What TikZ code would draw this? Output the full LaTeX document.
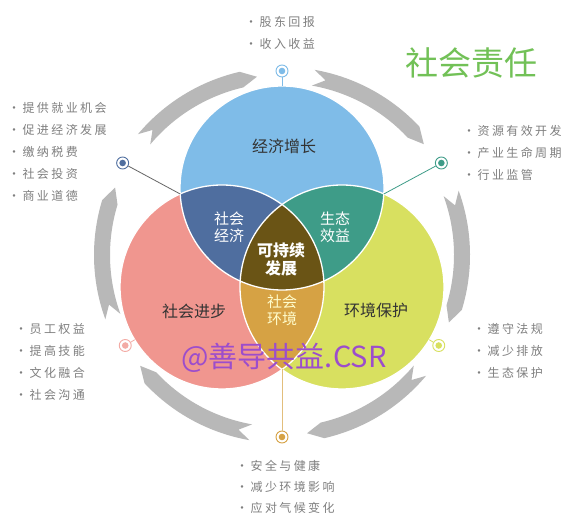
\documentclass[tikz,border=0pt]{standalone}
\usepackage{fontspec}
\setmainfont{Noto Sans CJK SC}
\newfontfamily\listfont[LetterSpace=20]{Noto Sans CJK SC}
\usetikzlibrary{calc}
\definecolor{cblue}{HTML}{7FBCE8}
\definecolor{cred}{HTML}{F0968F}
\definecolor{cyel}{HTML}{D8E060}
\definecolor{cbr}{HTML}{4F6E9F}
\definecolor{cby}{HTML}{3E9C88}
\definecolor{cry}{HTML}{D6A244}
\definecolor{cmid}{HTML}{6A5415}
\definecolor{ringgray}{HTML}{B8B8B8}
\definecolor{listgray}{HTML}{7F7F7F}
\definecolor{titlegreen}{HTML}{72C157}
\definecolor{markpurple}{HTML}{9C4DCC}
\tikzset{
  ringarrow/.style={fill=ringgray},
  knob/.style={circle, draw=#1, fill=white, line width=0.9pt, minimum size=12pt, inner sep=0pt,
    path picture={\fill[#1] (path picture bounding box.center) circle (3.3pt);}},
  listtext/.style={anchor=north west, align=left, inner sep=0pt, text=listgray,
    font=\listfont\fontsize{12}{22}\selectfont},
  lens/.style={align=center, inner sep=0pt, font=\fontsize{15}{17}\selectfont},
  bigtext/.style={inner sep=0pt, font=\fontsize{16}{18}\selectfont},
}
\begin{document}
\begin{tikzpicture}[x=1pt, y=1pt]
  \useasboundingbox[fill=white] (0,0) rectangle (572,524);
  \coordinate (O) at (282,269);
  \coordinate (B) at (282,336);
  \coordinate (R) at (222,237);
  \coordinate (Y) at (342,237);

  % ring of arrows
  \foreach \c in {120,60,0,-60,-120,180}{
    \fill[ringarrow, shift={(O)}] (\c+20:188pt) arc[start angle=\c+20, end angle=\c-17, radius=188pt]
      -- (\c-22:180pt) -- (\c-17:172pt) arc[start angle=\c-17, end angle=\c+20, radius=172pt]
      -- (\c+16:180pt) -- cycle;
  }

  % three circles
  \fill[cblue] (B) circle[radius=102pt];
  \fill[cred] (R) circle[radius=102pt];
  \fill[cyel] (Y) circle[radius=102pt];
  \begin{scope}
    \clip (B) circle[radius=102pt];
    \fill[cbr] (R) circle[radius=102pt];
    \fill[cby] (Y) circle[radius=102pt];
  \end{scope}
  \begin{scope}
    \clip (R) circle[radius=102pt];
    \fill[cry] (Y) circle[radius=102pt];
  \end{scope}
  \begin{scope}
    \clip (B) circle[radius=102pt];
    \clip (R) circle[radius=102pt];
    \fill[cmid] (Y) circle[radius=102pt];
  \end{scope}
  \foreach \p in {B,R,Y}
    \draw[white, line width=1.3pt] (\p) circle[radius=102pt];

  % knobs and their lines
  \node[knob=cblue] (knobt) at ($(O)+(90:184pt)$) {};
  \node[knob=cbr] (knobul) at ($(O)+(150:184pt)$) {};
  \node[knob=cby] (knobur) at ($(O)+(30:184pt)$) {};
  \node[knob=cred!80] (knobll) at ($(O)+(210:181pt)$) {};
  \node[knob=cyel] (knoblr) at ($(O)+(330:181pt)$) {};
  \node[knob=cry] (knobb) at ($(O)+(270:182pt)$) {};
  \coordinate (ptop) at (282,438);
  \coordinate (pbr) at (180.2,330);
  \coordinate (pby) at (383.8,330);
  \coordinate (pry) at (282,154.5);
  \coordinate (pll) at ($(R)!102pt!(knobll)$);
  \coordinate (plr) at ($(Y)!102pt!(knoblr)$);
  \draw[cblue, line width=0.8pt] (knobt) -- (ptop);
  \draw[black!60, line width=0.8pt] (knobul) -- (pbr);
  \draw[cby, line width=0.8pt] (knobur) -- (pby);
  \draw[cred!80, line width=0.8pt] (knobll) -- (pll);
  \draw[cyel, line width=0.8pt] (knoblr) -- (plr);
  \draw[cry!70!white, line width=0.8pt] (knobb) -- (pry);

  % labels inside the circles
  \node[bigtext, text=black!80] (econ) at (284,378) {经济增长};
  \node[bigtext, text=black!80] (soc) at (194,213) {社会进步};
  \node[bigtext, text=black!80] (env) at (376,214) {环境保护};
  \node[lens, text=white] (socecon) at (229,297) {社会\\经济};
  \node[lens, text=white] (ecoben) at (335,297) {生态\\效益};
  \node[lens, text=white, font=\bfseries\fontsize{16}{18}\selectfont] (sust) at (281,265) {可持续\\发展};
  \node[lens, text=yellow!20!white] (socenv) at (282,214) {社会\\环境};

  % lists
  \node[listtext] (listt) at (245,508) {·股东回报\\·收入收益};
  \node[listtext] (listul) at (8,422) {·提供就业机会\\·促进经济发展\\·缴纳税费\\·社会投资\\·商业道德};
  \node[listtext] (listur) at (463,399) {·资源有效开发\\·产业生命周期\\·行业监管};
  \node[listtext] (listll) at (15,201) {·员工权益\\·提高技能\\·文化融合\\·社会沟通};
  \node[listtext] (listlr) at (473,201) {·遵守法规\\·减少排放\\·生态保护};
  \node[listtext, font=\listfont\fontsize{12}{21}\selectfont] (listb) at (236,64) {·安全与健康\\·减少环境影响\\·应对气候变化};

  % title and watermark
  \node[inner sep=0pt, text=titlegreen, font=\fontsize{33}{35}\selectfont] (title) at (471,461) {社会责任};
  \node[inner sep=0pt, text=markpurple, font=\fontsize{29}{31}\selectfont] (mark) at (284,166) {@善导共益.CSR};
\end{tikzpicture}
\end{document}
